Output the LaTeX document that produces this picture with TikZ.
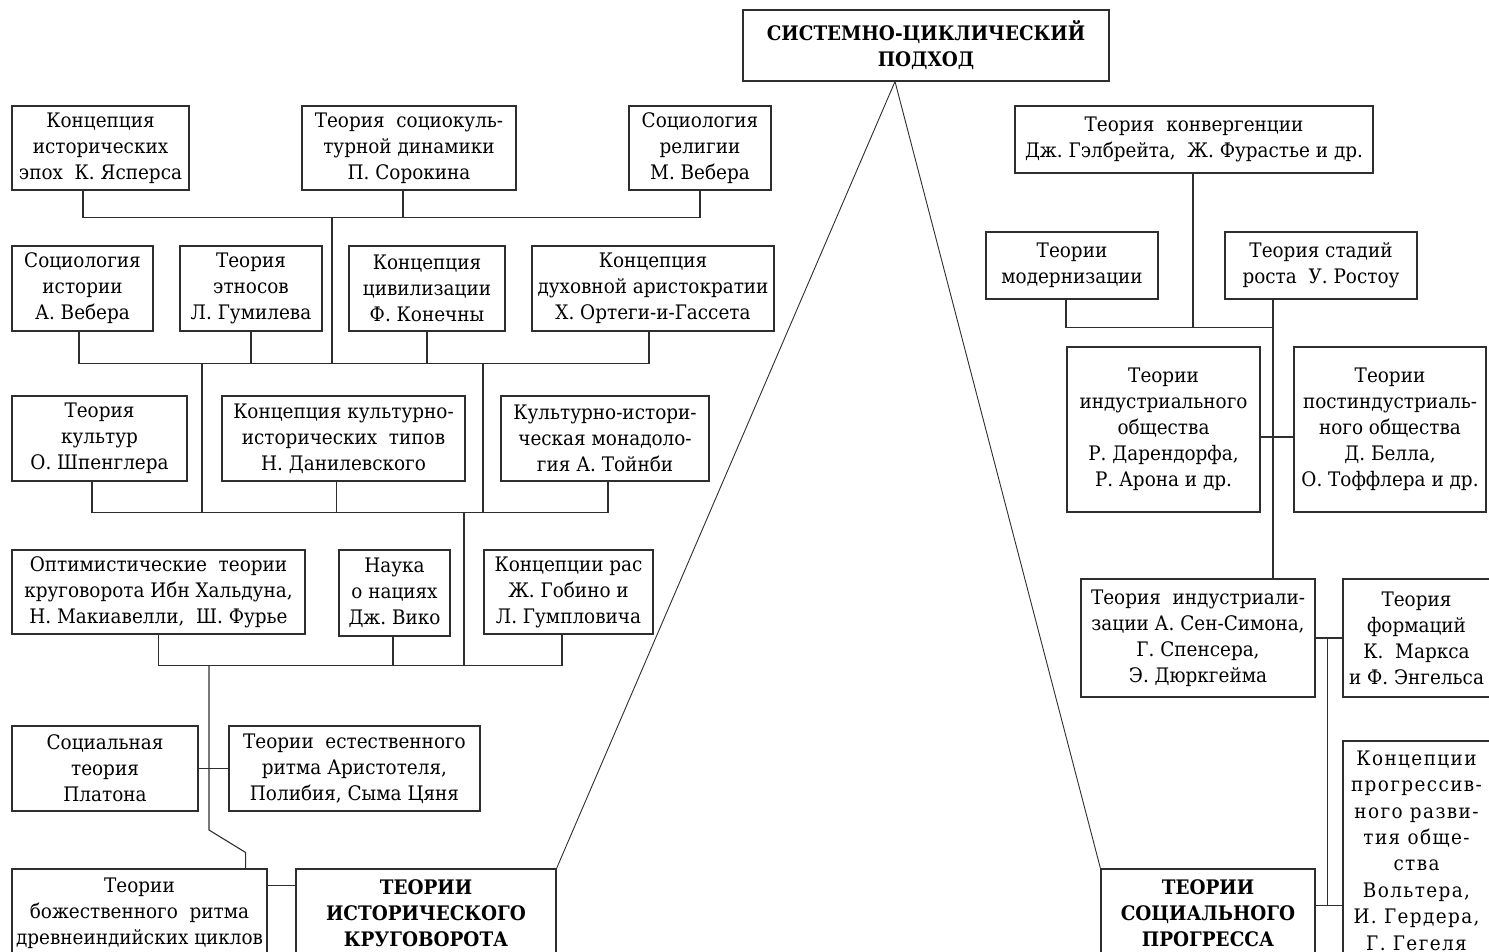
\documentclass[tikz,border=0pt]{standalone}
\usepackage{fontspec}
\setmainfont{DejaVu Serif}[FakeStretch=0.92]
\usetikzlibrary{calc}
\definecolor{ln}{HTML}{2E2E2E}
\newcommand\mybox[7][]{%
  \pgfmathsetmacro\myw{#5-#3}\pgfmathsetmacro\myh{#6-#4}%
  \node[box,#1,minimum width=\myw pt,minimum height=\myh pt] (#2) at ({(#3+#5)/2},{(#4+#6)/2}) {#7};}
\begin{document}
\begin{tikzpicture}[x=1pt,y=-1pt,
  box/.style={draw=ln,line width=1.1pt,inner sep=0pt,align=center,
    font=\fontsize{20}{26}\selectfont},
  titlebox/.style={font=\fontsize{20}{26}\selectfont\bfseries},
  conn/.style={draw=ln,line width=1.1pt},
  tri/.style={draw=ln,line width=0.9pt}]
\useasboundingbox (0,0) rectangle (1489,952);
\clip (0,0) rectangle (1489,952);
% top
\mybox[titlebox]{top}{743}{10}{1109}{81}{СИСТЕМНО-ЦИКЛИЧЕСКИЙ\\ПОДХОД}
% left tree
\mybox{A1}{12}{106}{189}{190}{Концепция\\исторических\\эпох~~К.~Ясперса}
\mybox{A2}{302}{106}{516}{190}{Теория~ социокуль-\\турной динамики\\П.~Сорокина}
\mybox{A3}{629}{106}{771}{190}{Социология\\религии\\М.~Вебера}
\mybox{B1}{12}{246}{153}{331}{Социология\\истории\\А.~Вебера}
\mybox{B2}{180}{246}{322}{331}{Теория\\этносов\\Л.~Гумилева}
\mybox{B3}{349}{246}{505}{331}{Концепция\\цивилизации\\Ф.~Конечны}
\mybox{B4}{532}{246}{774}{331}{Концепция\\духовной аристократии\\Х.~Ортеги-и-Гассета}
\mybox{C1}{12}{396}{187}{481}{Теория\\культур\\О.~Шпенглера}
\mybox{C2}{222}{396}{465}{481}{Концепция культурно-\\исторических~ типов\\Н.~Данилевского}
\mybox{C3}{501}{396}{709}{481}{Культурно-истори-\\ческая монадоло-\\гия А.~Тойнби}
\mybox{D1}{12}{550}{305}{634}{Оптимистические~ теории\\круговорота Ибн Хальдуна,\\Н.~Макиавелли,~ Ш.~Фурье}
\mybox{D2}{339}{550}{450}{636}{Наука\\о нациях\\Дж.~Вико}
\mybox{D3}{484}{550}{653}{634}{Концепции рас\\Ж.~Гобино и\\Л.~Гумпловича}
\mybox{E1}{12}{726}{198}{811}{Социальная\\теория\\Платона}
\mybox{E2}{229}{726}{480}{811}{Теории~ естественного\\ритма Аристотеля,\\Полибия, Сыма Цяня}
\mybox{F1}{12}{869}{267}{957}{Теории\\божественного~ ритма\\древнеиндийских циклов}
\mybox[titlebox]{F2}{296}{869}{556}{957}{ТЕОРИИ\\ИСТОРИЧЕСКОГО\\КРУГОВОРОТА}
% right tree
\mybox{G1}{1015}{106}{1373}{173}{Теория~ конвергенции\\Дж.~Гэлбрейта,~ Ж.~Фурастье и~др.}
\mybox{H1}{986}{232}{1158}{299}{Теории\\модернизации}
\mybox{H2}{1225}{232}{1417}{299}{Теория стадий\\роста~ У.~Ростоу}
\mybox{I1}{1067}{347}{1260}{512}{Теории\\индустриального\\общества\\Р.~Дарендорфа,\\Р.~Арона и~др.}
\mybox{I2}{1294}{347}{1486}{512}{Теории\\постиндустриаль-\\ного общества\\Д.~Белла,\\О.~Тоффлера и~др.}
\mybox{K1}{1081}{579}{1315}{697}{Теория~ индустриали-\\зации А.~Сен-Симона,\\Г.~Спенсера,\\Э.~Дюркгейма}
\mybox{K2}{1343}{579}{1490}{697}{Теория\\формаций\\К.~ Маркса\\и Ф.~Энгельса}
\mybox[titlebox]{L1}{1101}{869}{1315}{957}{ТЕОРИИ\\СОЦИАЛЬНОГО\\ПРОГРЕССА}
\mybox[font=\fontsize{20}{26.4}\selectfont\addfontfeature{LetterSpace=7}]{L2}{1343}{741}{1490}{960}{Концепции\\прогрессив-\\ного разви-\\тия обще-\\ства\\Вольтера,\\И.~Гердера,\\Г.~Гегеля}
% triangle
\draw[tri] (F2.north east) -- ($(top.south)+(-31,0)$) -- (L1.north west);
% left connectors
\draw[conn] ($(A1.south)+(-17.5,0)$) -- ++(0,27) -| (A3.south);
\draw[conn] ($(A2.south)+(-6,0)$) -- ++(0,27);
\coordinate (s1) at (332,217);
\coordinate (s2) at (332,363);
\draw[conn] (s1) -- (s2);
\draw[conn] ($(B1.south)+(-3.5,0)$) -- ++(0,32) -| ($(B4.south)+(-4,0)$);
\draw[conn] (B2.south) -- ++(0,32);
\draw[conn] (B3.south) -- ++(0,32);
\coordinate (s3) at (202,363);
\coordinate (s4) at (483,363);
\draw[conn] ($(C1.south)+(-7.5,0)$) -- ++(0,31) -| ($(C3.south)+(3,0)$);
\draw[conn] ($(C2.south)+(-7,0)$) -- ++(0,31);
\draw[conn] (s3) -- (s3 |- 0,512);
\draw[conn] (s4) -- (s4 |- 0,512);
\coordinate (s5) at (464,512);
\draw[conn] ($(D1.south)+(0,0)$) -- ++(0,31) -| ($(D3.south)+(-6.5,0)$);
\draw[conn] ($(D2.south)+(-1.5,0)$) -- ++(0,29);
\draw[conn] (s5) -- (s5 |- 0,665);
\coordinate (s6) at (209,665);
\draw[conn] (s6) -- (209,830) -- ($(F1.north east)+(-22,-16)$) -- ($(F1.north east)+(-22,0)$);
\draw[conn] (E1.east) -- (E2.west);
\draw[conn] ($(F1.north east)+(0,17)$) -- ($(F2.north west)+(0,17)$);
% right connectors
\draw[conn] ($(G1.south)+(-1,0)$) -- ++(0,154);
\draw[conn] ($(H1.south)+(-6,0)$) -- ++(0,28) -| ($(H2.south)+(-48,0)$);
\draw[conn] ($(H2.south)+(-48,0)$) -- ($(K1.north)+(75,0)$);
\draw[conn] ($(I1.east)+(0,7.5)$) -- ($(I2.west)+(0,7.5)$);
\draw[conn] (K1.east) -- (K2.west);
\coordinate (kj) at ($(K1.east)+(12,0)$);
\coordinate (lj) at ($(L1.north east)+(0,37)$);
\draw[conn] (kj) -- (kj |- lj);
\draw[conn] (lj) -- (lj -| L2.west);
\end{tikzpicture}
\end{document}
